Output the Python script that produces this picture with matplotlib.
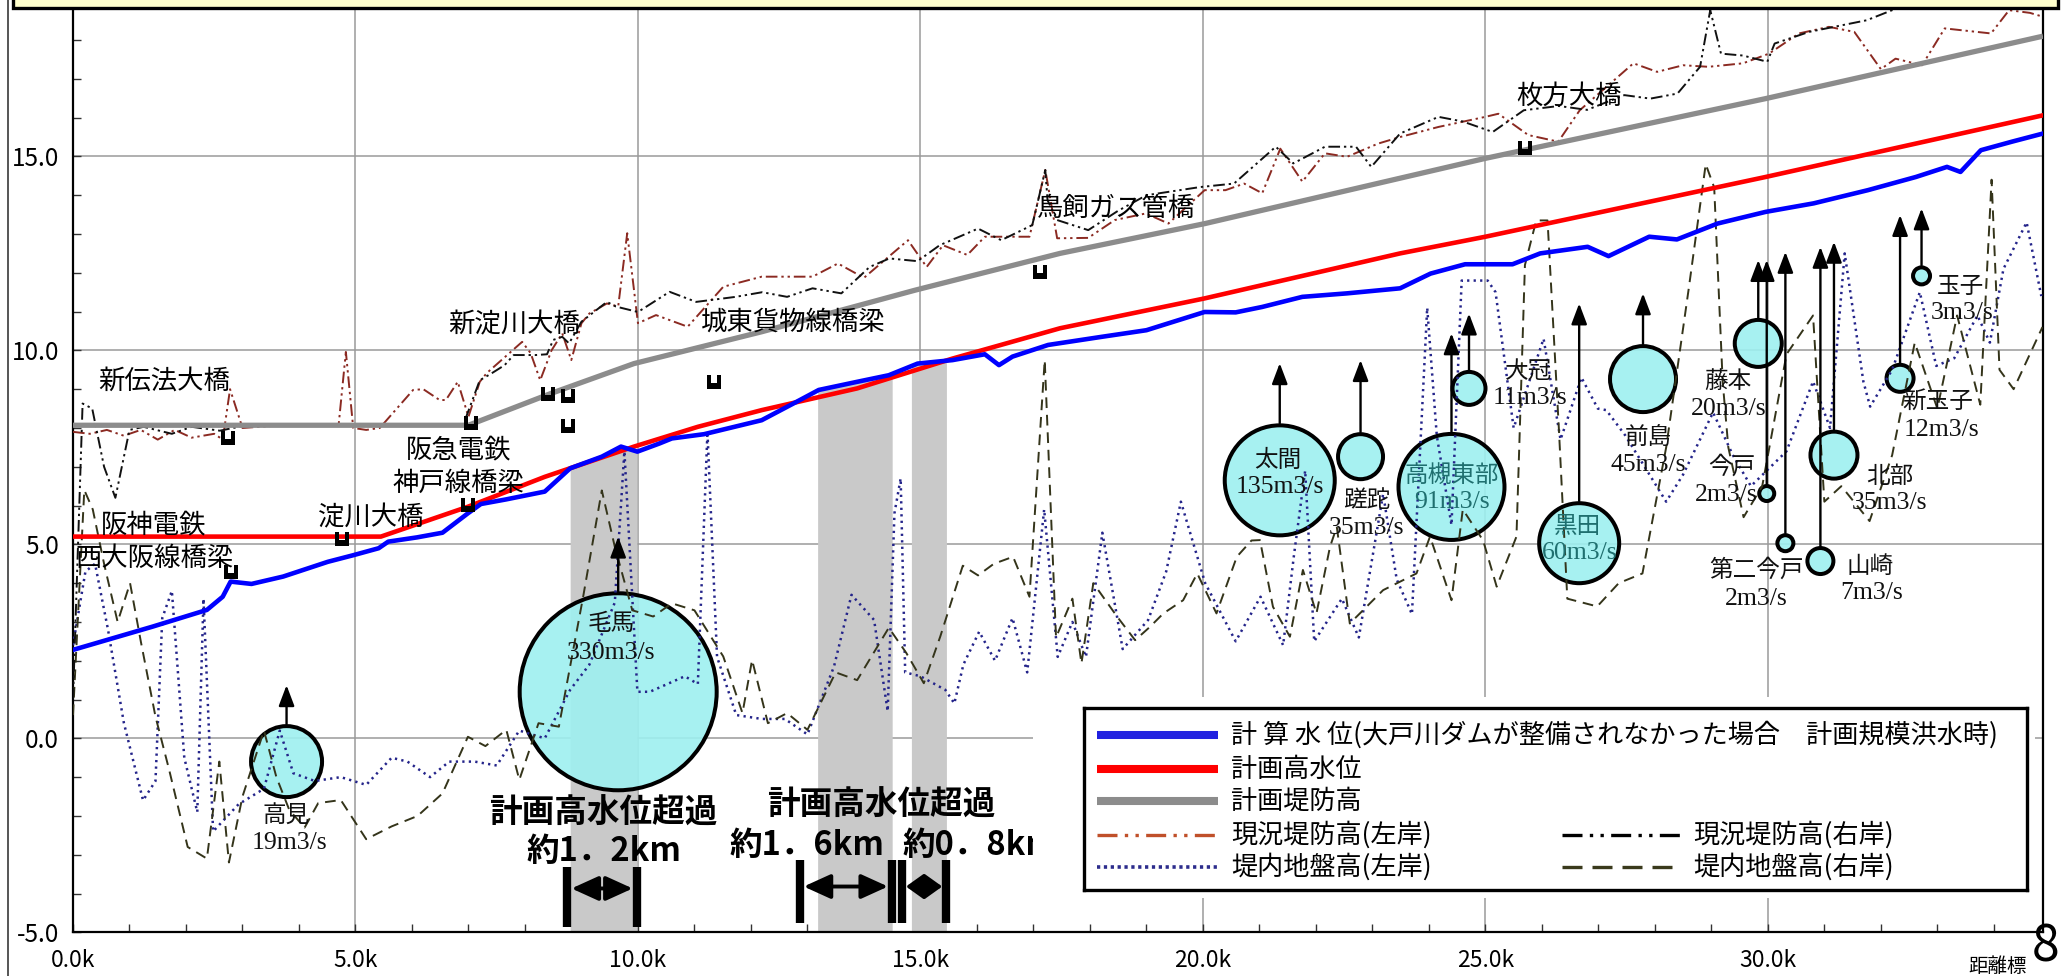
import numpy as np
import matplotlib
matplotlib.use("Agg")
import matplotlib.pyplot as plt
from matplotlib.path import Path
from matplotlib.patches import Rectangle
from matplotlib.lines import Line2D

plt.rcParams['font.family'] = ['Noto Sans CJK JP', 'DejaVu Sans']

# ---------------- data (distance km, elevation m) ----------------
blue_km = [0.0, 1.41, 2.37, 2.65, 2.79, 3.16, 3.72, 4.51, 4.96, 5.41, 5.58, 6.09, 6.54, 6.99, 7.22, 7.67,
           8.35, 8.80, 9.36, 9.70, 9.99, 10.38, 10.60, 11.17, 12.19, 12.75, 13.20, 13.88, 14.44, 14.95,
           15.57, 16.14, 16.39, 16.63, 17.26, 18.21, 19.00, 20.03, 20.58, 21.05, 21.76, 22.55, 23.49,
           24.03, 24.64, 25.48, 25.97, 26.81, 27.18, 27.90, 28.39, 29.11, 29.96, 30.81, 31.77, 32.62,
           33.17, 33.41, 33.77, 34.32, 34.87]
blue_v = [2.28, 2.88, 3.31, 3.65, 4.04, 3.98, 4.17, 4.55, 4.72, 4.90, 5.07, 5.18, 5.30, 5.80, 6.04, 6.16,
          6.36, 6.96, 7.26, 7.52, 7.39, 7.60, 7.73, 7.84, 8.20, 8.63, 8.98, 9.19, 9.36, 9.66,
          9.75, 9.90, 9.62, 9.84, 10.14, 10.35, 10.52, 10.99, 10.98, 11.12, 11.38, 11.47, 11.60,
          11.98, 12.22, 12.22, 12.50, 12.67, 12.43, 12.93, 12.86, 13.27, 13.57, 13.79, 14.13, 14.47,
          14.73, 14.60, 15.16, 15.38, 15.59]

red_km = [0.0, 5.45, 6.99, 8.35, 9.93, 11.06, 12.19, 13.88, 15.57, 17.47, 20.03, 23.49, 25.0, 29.96, 34.87]
red_v = [5.20, 5.20, 5.97, 6.74, 7.52, 8.03, 8.46, 9.02, 9.79, 10.57, 11.34, 12.50, 12.93, 14.47, 16.06]

gray_km = [0.0, 7.0, 8.46, 9.93, 12.19, 14.9, 17.47, 20.04, 25.0, 29.96, 34.87]
gray_v = [8.07, 8.07, 8.89, 9.66, 10.48, 11.55, 12.5, 13.27, 14.95, 16.49, 18.10]

levee_left_km = [0.0, 0.3, 0.6, 0.9, 1.2, 1.5, 1.8, 2.1, 2.5, 2.65, 2.78, 3.0, 3.5, 4.7, 4.83, 4.96, 5.19,
                 5.43, 6.02, 6.2, 6.49, 6.6, 6.81, 7.0, 7.2, 7.32, 7.95, 8.1, 8.27, 8.47, 8.66, 8.82, 9.0,
                 9.14, 9.45, 9.65, 9.81, 10.0, 10.32, 10.88, 11.51, 12.19, 13.09, 13.54, 14.0, 14.78,
                 15.11, 15.4, 15.83, 16.14, 16.93, 17.21, 17.42, 17.97, 18.44, 18.99, 19.39, 20.03, 20.4,
                 20.73, 21.05, 21.37, 21.76, 22.16, 22.55, 23.1, 23.49, 24.17, 25.0, 25.23, 25.76, 26.29,
                 26.67, 27.62, 28.04, 28.5, 28.95, 29.56, 30.02, 30.55, 31.08, 31.53, 32.0, 32.26, 32.73,
                 33.13, 33.95, 34.27, 34.64, 34.87]
levee_left_v = [7.9, 7.85, 7.95, 7.8, 7.95, 7.7, 7.95, 7.75, 7.85, 7.7, 9.0, 8.0, 8.05, 8.05, 9.96, 8.0, 7.95,
                8.0, 8.98, 9.0, 8.72, 8.72, 9.19, 8.29, 9.19, 9.41, 10.22, 9.93, 9.23, 10.0, 10.44, 9.75, 10.7,
                10.95, 11.21, 11.13, 13.02, 10.7, 10.91, 10.61, 11.64, 11.9, 11.9, 12.24, 11.87, 12.84,
                12.15, 12.71, 12.46, 12.93, 12.93, 14.65, 12.89, 12.9, 13.36, 13.53, 13.27, 14.13, 14.13,
                14.3, 14.05, 15.2, 14.35, 15.08, 14.99, 15.33, 15.5, 15.76, 16.02, 16.1, 15.55, 15.38,
                16.19, 17.4, 17.18, 17.35, 17.31, 17.4, 17.65, 18.17, 18.34, 18.21, 17.25, 17.52, 17.35,
                18.3, 18.17, 18.77, 18.7, 18.6]

levee_right_km = [0.0, 0.17, 0.34, 0.55, 0.75, 1.0, 1.25, 1.75, 2.1, 2.6, 3.0, 6.9, 7.2, 7.4, 7.64, 7.8,
                  8.19, 8.39, 8.5, 8.66, 8.78, 9.0, 9.45, 9.61, 10.0, 10.56, 11.03, 11.73, 12.2, 12.64,
                  13.09, 13.6, 14.1, 14.45, 14.95, 15.34, 16.02, 16.43, 16.98, 17.21, 17.25, 17.42, 17.97,
                  18.5, 19.0, 19.95, 20.55, 21.29, 21.6, 22.16, 22.71, 22.98, 23.49, 24.17, 24.6, 25.13,
                  25.68, 26.3, 26.8, 27.46, 27.92, 28.4, 28.8, 28.98, 29.17, 29.56, 29.99, 30.12, 30.73,
                  31.75, 32.2, 32.6, 33.5, 34.0, 34.87]
levee_right_v = [1.0, 8.63, 8.5, 7.0, 6.2, 7.95, 8.03, 7.85, 8.03, 7.93, 8.05, 8.05, 9.23, 9.4, 9.62, 9.88,
                 9.88, 9.9, 10.27, 10.35, 10.18, 10.74, 11.25, 11.13, 10.99, 11.51, 11.25, 11.38, 11.5, 11.38,
                 11.6, 11.47, 12.15, 12.37, 12.3, 12.71, 13.14, 12.84, 13.23, 14.65, 13.87, 13.36, 13.1,
                 13.6, 14.0, 14.21, 14.3, 15.25, 14.82, 15.25, 15.25, 14.73, 15.59, 16.02, 15.9, 15.63,
                 16.19, 16.3, 16.2, 16.58, 16.49, 16.62, 17.31, 18.77, 17.65, 17.6, 17.44, 17.91, 18.21,
                 18.51, 18.77, 19.2, 19.3, 19.2, 19.1]

ground_left_km = [0.0, 0.22, 0.39, 0.62, 0.9, 1.24, 1.46, 1.58, 1.75, 1.97,
                  2.2, 2.31, 2.48, 2.93, 3.38, 3.66, 3.9, 4.28, 4.74, 5.19,
                  5.64, 5.92, 6.32, 6.66, 7.11, 7.5, 7.9, 8.35, 8.8, 9.14,
                  9.59, 9.76, 9.99, 10.21, 10.83, 11.06, 11.23, 11.4, 11.74, 12.19,
                  12.6, 13.0, 13.47, 13.78, 14.18, 14.42, 14.54, 14.65, 14.73, 15.0,
                  15.44, 15.6, 15.76, 16.04, 16.32, 16.63, 16.89, 17.19, 17.43, 17.69,
                  17.93, 18.22, 18.58, 19.03, 19.35, 19.61, 20.04, 20.58, 21.02, 21.42,
                  21.61, 21.81, 21.97, 22.46, 22.76, 23.19, 23.43, 23.7, 23.97, 24.14,
                  24.4, 24.58, 25.04, 25.18, 25.5, 26.03, 26.33, 26.7, 26.99, 27.14,
                  27.48, 28.2, 28.5, 29.03, 29.38, 29.7, 30.33, 30.8, 31.1, 31.36,
                  31.69, 31.81, 32.2, 32.69, 32.98, 33.3, 33.71, 33.93, 34.17, 34.58, 34.84]
ground_left_v = [2.4, 4.3, 4.5, 2.8, 0.4, -1.6, -1.1, 3.1, 3.8, -0.5,
                 -1.9, 3.6, -2.4, -1.7, -1.3, 0.2, -0.9, -1.1, -1.0, -1.2,
                 -0.5, -0.6, -1.0, -0.6, -0.6, -0.7, 0.2, 0.0, 1.25, 1.9,
                 3.5, 7.4, 1.2, 1.2, 1.6, 1.4, 7.9, 2.1, 0.6, 0.5,
                 0.5, 0.1, 1.85, 3.7, 3.05, 0.7, 5.8, 6.7, 1.7, 1.6,
                 1.25, 0.9, 1.9, 2.75, 2.0, 3.1, 1.7, 5.9, 2.1, 3.0,
                 2.1, 5.3, 2.3, 3.05, 4.3, 6.1, 4.0, 2.5, 3.65, 2.4,
                 4.7, 6.9, 2.5, 3.6, 2.6, 6.3, 4.1, 3.2, 11.1, 7.8,
                 5.5, 11.8, 11.8, 11.5, 8.0, 10.3, 7.7, 9.3, 8.5, 8.46,
                 7.8, 6.1, 6.8, 8.4, 7.3, 6.5, 7.4, 9.2, 8.0, 12.5,
                 9.2, 8.55, 9.5, 11.5, 9.6, 9.8, 10.9, 10.2, 12.1, 13.3, 11.4]

ground_right_km = [0.0, 0.2, 0.35, 0.55, 0.79, 1.01, 1.2, 1.46, 1.7, 2.03, 2.37, 2.59, 2.76, 3.0, 3.38, 3.6,
                   3.83, 4.1, 4.34, 4.74, 5.19, 5.64, 6.1, 6.54, 6.99, 7.3, 7.67, 7.9, 8.24, 8.6, 9.03,
                   9.36, 9.59, 9.9, 10.27, 10.6, 11.0, 11.51, 11.85, 12.02, 12.3, 12.64, 13.0, 13.5, 13.88,
                   14.44, 14.75, 15.06, 15.35, 15.75, 16.02, 16.3, 16.64, 16.93, 17.2, 17.4, 17.69, 17.85,
                   18.06, 18.48, 18.8, 19.06, 19.3, 19.65, 19.9, 20.24, 20.6, 20.86, 21.01, 21.24, 21.54,
                   21.77, 22.01, 22.25, 22.37, 22.6, 23.19, 23.78, 24.02, 24.4, 24.6, 24.96, 25.2, 25.55,
                   25.7, 25.9, 26.1, 26.3, 26.45, 26.98, 27.36, 27.78, 28.2, 28.6, 28.9, 29.05, 29.2, 29.3,
                   29.57, 29.9, 30.33, 30.8, 31.0, 31.3, 31.8, 32.2, 32.6, 33.0, 33.35, 33.76, 33.96, 34.1,
                   34.35, 34.86]
ground_right_v = [0.6, 6.4, 5.9, 4.5, 3.0, 4.0, 2.5, 0.56, -0.8, -2.8, -3.1, -0.6, -3.2, -1.5, 0.2, -1.0,
                  -1.85, -2.3, -1.67, -1.59, -2.6, -2.27, -2.0, -1.42, 0.04, -0.2, 0.22, -1.07, 0.39, 0.3, 3.65,
                  6.39, 4.94, 3.3, 3.14, 3.48, 3.3, 2.11, 0.65, 2.02, 0.39, 0.65, 0.22, 1.7, 1.5,
                  2.85, 2.2, 1.42, 2.62, 4.45, 4.2, 4.5, 4.68, 3.65, 9.75, 2.6, 3.6, 1.93,
                  4.0, 3.14, 2.53, 2.87, 3.22, 3.56, 4.25, 3.22, 4.68, 5.1, 5.11, 3.39, 2.62,
                  4.34, 3.22, 4.94, 5.45, 2.96, 3.82, 4.25, 5.2, 3.56, 5.9, 5.1, 3.91, 5.2,
                  12.2, 13.35, 13.35, 8.0, 3.6, 3.4, 4.0, 4.25, 7.5, 11.6, 14.8, 14.2, 9.2, 7.5,
                  5.7, 6.5, 9.9, 10.9, 6.1, 6.5, 5.6, 7.3, 10.2, 8.5, 10.9, 8.6, 14.4, 9.5,
                  9.0, 10.6]

# overflow sections (km) and their labels
overflow_from = [8.80, 13.18, 14.84]
overflow_to = [9.98, 14.50, 15.46]
overflow_len = ["約1．2km", "約1．6km", "約0．8km"]

# tributaries / pump stations: name, discharge (m3/s), position, arrow top, bubble diameter (px)
trib_name = ["高見", "毛馬", "太間", "蹉跎", "高槻東部", "大冠", "黒田", "前島", "藤本", "今戸",
             "第二今戸", "山崎", "北部", "新玉子", "玉子"]
trib_q = [19, 330, 135, 35, 91, 11, 60, 45, 20, 2, 2, 7, 35, 12, 3]
trib_km = [3.78, 9.65, 21.36, 22.79, 24.40, 24.71, 26.66, 27.79, 29.83, 29.98, 30.31, 30.93, 31.17, 32.34, 32.72]
trib_v = [-0.60, 1.20, 6.65, 7.26, 6.48, 9.02, 5.03, 9.26, 10.18, 6.31, 5.03, 4.57, 7.30, 9.28, 11.92]
trib_arrow_v = [1.37, 5.20, 9.67, 9.75, 10.44, 10.95, 11.21, 11.47, 12.33, 12.33, 12.54, 12.67, 12.80, 13.49, 13.66]
trib_diam = [75, 201, 114, 49, 110, 37, 84, 70, 51, 19, 20, 30, 51, 31, 21]

# bridges
bridge_km = [2.74, 2.79, 4.77, 6.99, 7.05, 8.40, 8.77, 8.77, 11.34, 17.12, 25.70]
bridge_v = [7.73, 4.29, 5.15, 6.01, 8.13, 8.87, 8.83, 8.06, 9.18, 12.03, 15.21]

x_ticks = [0, 5, 10, 15, 20, 25, 30]
y_ticks = [-5, 0, 5, 10, 15]

# ---------------- figure ----------------
W, H, DPI = 2072, 976, 100
PT = 72.0 / DPI
fig = plt.figure(figsize=(W / DPI, H / DPI), dpi=DPI)
fig.patch.set_facecolor('white')

AX_L, AX_R, AX_T, AX_B = 73, 2043, 9, 932.3
ax = fig.add_axes([AX_L / W, 1 - AX_B / H, (AX_R - AX_L) / W, (AX_B - AX_T) / H])
ax.set_xlim(0, 34.87)
ax.set_ylim(-5, 18.8)

ax.set_xticks(x_ticks)
ax.set_xticklabels([f"{k:.1f}k" for k in x_ticks], fontsize=16.5)
ax.set_yticks(y_ticks)
ax.set_yticklabels([f"{v:.1f}" for v in y_ticks], fontsize=17.5)
ax.set_xticks(np.arange(0, 35, 1), minor=True)
ax.set_yticks(np.arange(-5, 19, 1), minor=True)
ax.tick_params(which='both', direction='in', length=6, width=1.0, color='#333333')
ax.tick_params(axis='y', which='major', pad=10)
ax.tick_params(axis='x', which='major', pad=12)
ax.grid(True, which='major', color='#9a9a9a', lw=1.1)
ax.set_axisbelow(True)
for s in ['left', 'bottom', 'right']:
    ax.spines[s].set_linewidth(1.6)
ax.spines['top'].set_visible(False)

# overflow bands (up to the computed water level)
for a, b in zip(overflow_from, overflow_to):
    xs = np.linspace(a, b, 40)
    ax.fill_between(xs, -5, np.interp(xs, blue_km, blue_v), color='#c9c9c9', lw=0, zorder=1.5)

# bubbles
ax.scatter(trib_km, trib_v, s=[((d - 4) * PT) ** 2 for d in trib_diam],
           facecolor=(0.62, 0.94, 0.94, 0.9), edgecolor='black', linewidths=4 * PT, zorder=3)

# ground and levee lines
ax.plot(ground_left_km, ground_left_v, color='#24248a', lw=1.8, dashes=(0.9, 1.7), zorder=3.5)
ax.plot(ground_right_km, ground_right_v, color='#34341a', lw=1.4, dashes=(5.5, 3.5), zorder=3.6)
ax.plot(levee_left_km, levee_left_v, color='#8b2a22', lw=1.4, dashes=(6, 2, 1.2, 2, 1.2, 2), zorder=3.7)
ax.plot(levee_right_km, levee_right_v, color='#111111', lw=1.4, dashes=(6, 2, 1.2, 2, 1.2, 2), zorder=3.8)
ax.plot(gray_km, gray_v, color='#8c8c8c', lw=3.8, zorder=4, solid_capstyle='butt')
ax.plot(red_km, red_v, color='#ff0000', lw=3.3, zorder=5)
ax.plot(blue_km, blue_v, color='#0000ff', lw=3.3, zorder=6)

# bridge markers
u_marker = Path([(-1, -1), (1, -1), (1, 1), (0.4, 1), (0.4, -0.2), (-0.4, -0.2), (-0.4, 1), (-1, 1), (-1, -1)],
                [Path.MOVETO] + [Path.LINETO] * 7 + [Path.CLOSEPOLY])
ax.scatter(bridge_km, bridge_v, marker=u_marker, s=(14 * PT) ** 2, color='black', linewidths=0, zorder=8)

# bridge labels
bridge_labels = [("新伝法大橋", 0.44, 9.2, 'left'), ("新淀川大橋", 6.65, 10.65, 'left'),
                 ("城東貨物線橋梁", 11.12, 10.74, 'left'), ("鳥飼ガス管橋", 17.07, 13.66, 'left'),
                 ("枚方大橋", 25.54, 16.54, 'left'), ("阪急電鉄", 6.82, 7.43, 'center'),
                 ("神戸線橋梁", 6.82, 6.57, 'center'), ("淀川大橋", 4.34, 5.67, 'left'),
                 ("阪神電鉄", 0.50, 5.50, 'left'), ("西大阪線橋梁", 0.05, 4.64, 'left')]
for t, x, y, ha in bridge_labels:
    ax.text(x, y, t, fontsize=19, ha=ha, va='center', zorder=9)

# arrows from bubbles
for x, y, t, d in zip(trib_km, trib_v, trib_arrow_v, trib_diam):
    ax.annotate('', xy=(x, t), xytext=(x, y),
                arrowprops=dict(arrowstyle='-|>,head_length=0.9,head_width=0.34', color='black',
                                lw=1.7, shrinkA=d / 2 * PT, shrinkB=0, mutation_scale=14), zorder=7)

# bubble labels
name_pos = [(3.78, -2.02), (9.53, 2.96), (21.33, 7.17), (22.90, 6.14), (24.40, 6.79), (25.76, 9.45),
            (26.63, 5.45), (27.88, 7.73), (29.30, 9.19), (29.36, 7.0), (29.80, 4.34), (31.81, 4.44),
            (32.16, 6.76), (33.01, 8.65), (33.40, 11.66)]
flow_pos = [(3.83, -2.71), (9.53, 2.21), (21.36, 6.48), (22.90, 5.42), (24.40, 6.10), (25.79, 8.76),
            (26.67, 4.77), (27.88, 7.04), (29.30, 8.48), (29.27, 6.27), (29.80, 3.58), (31.84, 3.75),
            (32.16, 6.07), (33.07, 7.96), (33.43, 10.97)]
for n, q, (nx, ny), (fx, fy) in zip(trib_name, trib_q, name_pos, flow_pos):
    col = '#1f6f6f' if n in ("高槻東部", "黒田") else '#111111'
    ax.text(nx, ny, n, fontsize=17, ha='center', va='center', color=col, zorder=9)
    ax.text(fx, fy, f"{q}m3/s", fontsize=18.5, ha='center', va='center', color=col, zorder=9,
            family=['Liberation Serif', 'Noto Sans CJK JP'])

# overflow annotations
ax.text(9.39, -1.93, "計画高水位超過", fontsize=23.5, fontweight='bold', ha='center', va='center', zorder=9)
ax.text(14.30, -1.72, "計画高水位超過", fontsize=23.5, fontweight='bold', ha='center', va='center', zorder=9)
ax.text(9.39, -2.92, overflow_len[0], fontsize=23.5, fontweight='bold', ha='center', va='center', zorder=9)
ax.text(12.99, -2.75, overflow_len[1], fontsize=23.5, fontweight='bold', ha='center', va='center', zorder=9)
ax.text(14.69, -2.75, overflow_len[2], fontsize=23.5, fontweight='bold', ha='left', va='center', zorder=9)

bar_y = [(-3.31, -4.86, -3.87), (-3.14, -4.77, -3.82), (-3.14, -4.77, -3.82)]
bar_left = [8.75, 12.86, 14.67]
bar_right = [9.98, 14.50, 15.46]
head_len = [1.1, 1.1, 0.7]
for a, b, (y0, y1, ya), hl in zip(bar_left, bar_right, bar_y, head_len):
    for xx in (a, b):
        ax.plot([xx, xx], [y0, y1], color='black', lw=6, solid_capstyle='butt', zorder=9)
    ax.annotate('', xy=(b, ya), xytext=(a, ya),
                arrowprops=dict(arrowstyle=f'<|-|>,head_length={hl},head_width=0.5', color='black', lw=2.8,
                                shrinkA=3, shrinkB=3, mutation_scale=15), zorder=9)

# ---------------- legend ----------------
fig.add_artist(Rectangle((1033 / W, 1 - 898 / H), (2035 - 1033) / W, (898 - 697) / H,
                         transform=fig.transFigure, facecolor='white', edgecolor='none', zorder=2))
LX0, LY0, LW, LH = 1084, 708, 943, 182
lax = fig.add_axes([LX0 / W, 1 - (LY0 + LH) / H, LW / W, LH / H], zorder=3)
lax.set_xlim(0, LW)
lax.set_ylim(LH, 0)
lax.set_xticks([])
lax.set_yticks([])
for s in lax.spines.values():
    s.set_linewidth(2.4)
rows = [27, 61, 93, 127, 159]
lax.plot([13, 134], [rows[0]] * 2, color='#2020e0', lw=5.8, solid_capstyle='butt')
lax.plot([13, 134], [rows[1]] * 2, color='#ff0000', lw=5.8, solid_capstyle='butt')
lax.plot([13, 134], [rows[2]] * 2, color='#8c8c8c', lw=5.8, solid_capstyle='butt')
lax.plot([13, 134], [rows[3]] * 2, color='#c0502a', lw=2.4, dashes=(6, 2.2, 1, 2.2, 1, 2.2))
lax.plot([13, 134], [rows[4]] * 2, color='#2c2c8c', lw=2.6, dashes=(0.9, 1.0))
lax.plot([478, 597], [rows[3]] * 2, color='black', lw=2.4, dashes=(6, 2.2, 1, 2.2, 1, 2.2))
lax.plot([478, 597], [rows[4]] * 2, color='#3a3a1c', lw=2.4, dashes=(6, 3))
leg_txt = [(147, rows[0], "計 算 水 位(大戸川ダムが整備されなかった場合　計画規模洪水時)"),
           (147, rows[1], "計画高水位"), (147, rows[2], "計画堤防高"),
           (147, rows[3], "現況堤防高(左岸)"), (147, rows[4], "堤内地盤高(左岸)"),
           (609, rows[3], "現況堤防高(右岸)"), (609, rows[4], "堤内地盤高(右岸)")]
for x, y, t in leg_txt:
    lax.text(x, y, t, fontsize=18.8, ha='left', va='center')

# ---------------- page decorations ----------------
fig.add_artist(Rectangle((13 / W, 1 - 8 / H), (2058 - 13) / W, 30 / H, transform=fig.transFigure,
                         facecolor='#ffffcc', edgecolor='black', lw=2.4, zorder=10))
fig.add_artist(Line2D([8 / W, 8 / W], [0, 1], transform=fig.transFigure, color='#555555', lw=1.4))
fig.text(1998 / W, 1 - 967 / H, "距離標", fontsize=14, ha='center', va='center')
fig.text(2046 / W, 1 - 948 / H, "8", fontsize=36, ha='center', va='center')

fig.savefig("out.png", dpi=DPI)
